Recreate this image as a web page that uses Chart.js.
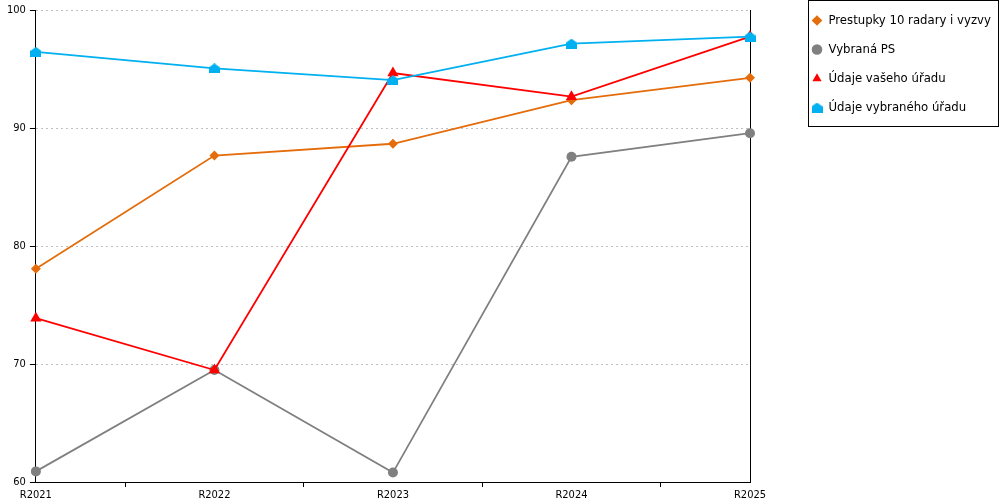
<!DOCTYPE html>
<html lang="cs">
<head>
    <meta charset="UTF-8">
    <title>Prestupky</title>
    <script src="https://cdn.jsdelivr.net/npm/chart.js"></script>
    <style>
        body { margin: 0; background: #fff; }
    </style>
</head>
<body>
    <canvas id="chart" width="1000" height="500"></canvas>
    <script>
        // data
        const labels = ['R2021', 'R2022', 'R2023', 'R2024', 'R2025'];
        const prestupky = [78.1, 87.7, 88.7, 92.4, 94.3];
        const vybranaPS = [60.9, 69.5, 60.8, 87.6, 89.6];
        const vasUrad = [73.9, 69.5, 94.7, 92.7, 97.8];
        const vybranyUrad = [96.5, 95.1, 94.1, 97.2, 97.8];
        const yTicks = [60, 70, 80, 90, 100];

        const FONT = '"DejaVu Sans Condensed", "DejaVu Sans", sans-serif';

        // "house" marker for the last series
        function makeHouse(color) {
            const c = document.createElement('canvas');
            c.width = 11;
            c.height = 10;
            const g = c.getContext('2d');
            g.fillStyle = color;
            g.beginPath();
            g.moveTo(0, 4);
            g.lineTo(5.5, 0);
            g.lineTo(11, 4);
            g.lineTo(11, 10);
            g.lineTo(0, 10);
            g.closePath();
            g.fill();
            return c;
        }
        const house = makeHouse('#00B0F0');

        function series(label, data, color, style, radius, order) {
            return {
                label: label,
                data: data,
                borderColor: color,
                backgroundColor: color,
                borderWidth: 1.8,
                pointStyle: style,
                pointRadius: radius,
                pointHoverRadius: radius,
                pointBorderWidth: 0,
                tension: 0,
                fill: false,
                order: order
            };
        }

        const legendBox = {
            id: 'legendBox',
            afterLayout(chart) {
                chart.legend.top = -2;
            },
            afterDraw(chart) {
                const ctx = chart.ctx;
                ctx.save();
                ctx.strokeStyle = '#000';
                ctx.lineWidth = 1;
                ctx.strokeRect(808.5, 0.5, chart.width - 1.5 - 808.5, 126);
                ctx.restore();
            }
        };

        new Chart(document.getElementById('chart'), {
            type: 'line',
            data: {
                labels: labels,
                datasets: [
                    series('Prestupky 10 radary i vyzvy', prestupky, '#E46C0A', 'rectRot', 5, 4),
                    series('Vybraná PS', vybranaPS, '#808080', 'circle', 5, 3),
                    series('Údaje vašeho úřadu', vasUrad, '#FF0000', 'triangle', 6.5, 2),
                    series('Údaje vybraného úřadu', vybranyUrad, '#00B0F0', house, 6, 1)
                ]
            },
            options: {
                responsive: false,
                animation: false,
                layout: { padding: { top: 10, left: 3, right: 0, bottom: -4 } },
                plugins: {
                    tooltip: { enabled: false },
                    legend: {
                        position: 'right',
                        align: 'start',
                        maxWidth: 204,
                        labels: {
                            usePointStyle: true,
                            boxWidth: 10,
                            boxHeight: 7.5,
                            padding: 16,
                            color: '#000',
                            font: { family: FONT, size: 13 },
                            sort: (a, b) => a.datasetIndex - b.datasetIndex
                        }
                    }
                },
                scales: {
                    x: {
                        type: 'category',
                        offset: false,
                        grid: {
                            offset: true,
                            drawOnChartArea: false,
                            tickLength: 5,
                            tickColor: '#000'
                        },
                        border: { color: '#000', width: 1 },
                        ticks: {
                            color: '#000',
                            padding: 3,
                            maxRotation: 0,
                            autoSkip: false,
                            font: { family: FONT, size: 11, lineHeight: 1 }
                        }
                    },
                    y: {
                        min: 60,
                        max: 100,
                        afterBuildTicks: (s) => { s.ticks = yTicks.map(v => ({ value: v })); },
                        grid: {
                            color: (c) => c.tick && c.tick.value === 60 ? 'rgba(0,0,0,0)' : '#BFBFBF',
                            lineWidth: 1,
                            tickLength: 6,
                            tickColor: '#000',
                            tickBorderDash: []
                        },
                        border: { color: '#000', width: 1, dash: [2, 3] },
                        ticks: {
                            color: '#000',
                            padding: 4,
                            font: { family: FONT, size: 11 }
                        }
                    },
                    y2: {
                        position: 'right',
                        min: 60,
                        max: 100,
                        grid: { display: false },
                        ticks: { display: false },
                        border: { color: '#000', width: 1 },
                        afterFit: (s) => { s.width = 46; }
                    }
                }
            },
            plugins: [legendBox]
        });
    </script>
</body>
</html>
